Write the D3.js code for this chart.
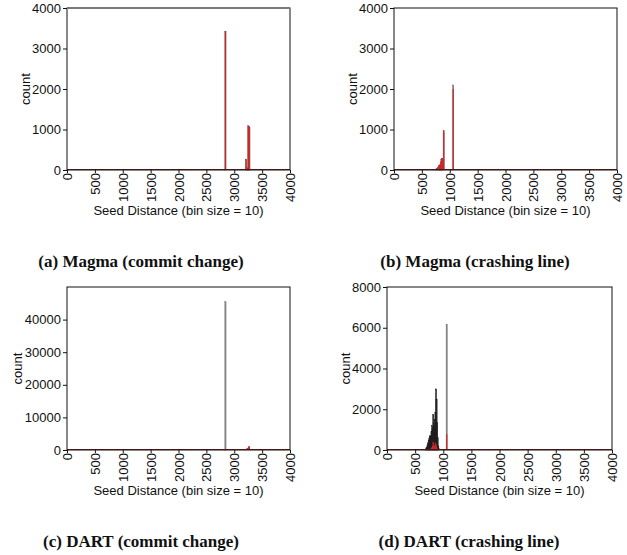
<!DOCTYPE html>
<html>
<head>
<meta charset="utf-8">
<script src="https://cdn.jsdelivr.net/npm/d3@7"></script>
<style>
  body { margin: 0; background: #fff; }
  svg { display: block; }
</style>
</head>
<body>
<svg id="chart" width="627" height="555"></svg>
<script>
// ---------- data ----------
const xTicks = [0, 500, 1000, 1500, 2000, 2500, 3000, 3500, 4000];
const binSize = 10;

// (a) Magma (commit change)
const binsA = [2830, 3200, 3210, 3220, 3230, 3240, 3250, 3260];
const grayA = [3430, 270, 60, 40, 30, 1100, 1080, 1060];
const redA  = [3430, 265, 60, 40, 30, 1080, 1080, 1060];
const yTicksA = [0, 1000, 2000, 3000, 4000];

// (b) Magma (crashing line)
const binsB = [680, 700, 720, 740, 760, 780, 790, 800, 810, 820, 830, 840, 850, 860, 870, 880, 1050];
const grayB = [5, 10, 15, 25, 40, 60, 100, 120, 120, 130, 200, 270, 280, 270, 280, 975, 2100];
const redB  = [5, 10, 15, 25, 40, 60, 100, 120, 120, 130, 200, 270, 280, 270, 280, 950, 2000];
const yTicksB = [0, 1000, 2000, 3000, 4000];

// (c) DART (commit change)
const binsC = [2830, 3200, 3210, 3220, 3230, 3240, 3250, 3260];
const grayC = [45500, 0, 0, 0, 0, 0, 0, 0];
const redC  = [300, 300, 200, 600, 500, 700, 1200, 1100];
const yTicksC = [0, 10000, 20000, 30000, 40000];

// (d) DART (crashing line)
const binsD = [680, 690, 700, 710, 720, 730, 740, 750, 760, 770, 780, 790, 800, 810, 820, 830, 840, 850, 860, 870, 880, 890, 900, 910, 1050];
const grayD = [50, 100, 150, 250, 350, 450, 550, 650, 700, 600, 900, 1200, 1000, 1750, 1300, 1100, 1500, 1850, 3000, 2500, 1350, 600, 200, 60, 6150];
const redD  = [0, 0, 0, 0, 0, 10, 20, 30, 50, 80, 100, 150, 200, 400, 250, 150, 200, 350, 250, 150, 80, 20, 0, 0, 770];
const yTicksD = [0, 2000, 4000, 6000, 8000];

const captions = ["(a) Magma (commit change)", "(b) Magma (crashing line)", "(c) DART (commit change)", "(d) DART (crashing line)"];
const yMaxes = [4000, 4000, 50000, 8000];

// ---------- layout ----------
const panels = [
  { box: [67, 8, 290, 170],   bins: binsA, gray: grayA, red: redA, yTicks: yTicksA, yMax: yMaxes[0], cap: captions[0], capX: 141, capY: 267, ylabX: 25, grayTop: true },
  { box: [394, 8, 617, 170],  bins: binsB, gray: grayB, red: redB, yTicks: yTicksB, yMax: yMaxes[1], cap: captions[1], capX: 475, capY: 267, ylabX: 352 },
  { box: [67, 287, 290, 450], bins: binsC, gray: grayC, red: redC, yTicks: yTicksC, yMax: yMaxes[2], cap: captions[2], capX: 141, capY: 547, ylabX: 17 },
  { box: [387, 287, 612, 450], bins: binsD, gray: grayD, red: redD, yTicks: yTicksD, yMax: yMaxes[3], cap: captions[3], capX: 469, capY: 547, ylabX: 345, dense: true }
];

const svg = d3.select("#chart");
const FONT = "Liberation Sans, Arial, sans-serif";
const GRAY = "#8c8c8c";
const DARK = "#2a2a2a";
const RED = "#cc2a2a";

panels.forEach(p => {
  const [x0, y0, x1, y1] = p.box;
  const x = d3.scaleLinear().domain([0, 4000]).range([x0, x1]);
  const y = d3.scaleLinear().domain([0, p.yMax]).range([y1, y0]);
  const g = svg.append("g");

  const bw = v => Math.max(x(v + binSize) - x(v), 1.3);
  const present = new Set(p.bins.filter((b, i) => p.gray[i] > 0));
  const isDense = b => p.dense && (present.has(b - binSize) || present.has(b + binSize));

  // gray series
  g.append("g").selectAll("rect")
    .data(p.bins.map((b, i) => ({ b, v: p.gray[i] })).filter(d => d.v > 0))
    .join("rect")
    .attr("x", d => x(d.b))
    .attr("width", d => bw(d.b))
    .attr("y", d => y(d.v))
    .attr("height", d => y1 - y(d.v))
    .attr("fill", d => isDense(d.b) ? DARK : GRAY)
    .attr("stroke", d => isDense(d.b) ? "#111" : "#555")
    .attr("stroke-width", 0.3);

  // red series
  g.append("g").selectAll("rect")
    .data(p.bins.map((b, i) => ({ b, v: p.red[i] })).filter(d => d.v > 0))
    .join("rect")
    .attr("x", d => x(d.b))
    .attr("width", d => bw(d.b))
    .attr("y", d => y(d.v))
    .attr("height", d => y1 - y(d.v))
    .attr("fill", RED);

  // baseline of zero-count bins
  g.append("line")
    .attr("x1", x0).attr("x2", x1).attr("y1", y1 - 0.5).attr("y2", y1 - 0.5)
    .attr("stroke", "#7a1e1e").attr("stroke-width", 1);

  // frame
  g.append("rect")
    .attr("x", x0).attr("y", y0).attr("width", x1 - x0).attr("height", y1 - y0)
    .attr("fill", "none").attr("stroke", "#111").attr("stroke-width", 1);
  if (p.grayTop) {
    g.append("line")
      .attr("x1", x0).attr("x2", x1).attr("y1", y0).attr("y2", y0)
      .attr("stroke", "#7a7a7a").attr("stroke-width", 1.8);
  }

  // y axis
  const ya = g.append("g").attr("transform", `translate(${x0},0)`)
    .call(d3.axisLeft(y).tickValues(p.yTicks).tickSize(4).tickPadding(2).tickFormat(d3.format("d")));
  ya.select(".domain").remove();
  ya.selectAll("text").attr("font-family", FONT).attr("font-size", 13).attr("fill", "#111");
  ya.selectAll("line").attr("stroke", "#111");

  // x axis
  const xa = g.append("g").attr("transform", `translate(0,${y1})`)
    .call(d3.axisBottom(x).tickValues(xTicks).tickSize(3).tickFormat(d3.format("d")));
  xa.select(".domain").remove();
  xa.selectAll("line").attr("stroke", "#111");
  xa.selectAll("text")
    .attr("font-family", FONT).attr("font-size", 13).attr("fill", "#111")
    .attr("transform", "rotate(-90)")
    .attr("x", -3).attr("y", 0).attr("dy", "0.35em")
    .attr("text-anchor", "end");

  // axis labels
  g.append("text")
    .attr("x", (x0 + x1) / 2).attr("y", y1 + 45)
    .attr("text-anchor", "middle")
    .attr("font-family", FONT).attr("font-size", 13).attr("fill", "#111")
    .text("Seed Distance (bin size = 10)");
  g.append("text")
    .attr("transform", `translate(${p.ylabX},${(y0 + y1) / 2}) rotate(-90)`)
    .attr("text-anchor", "middle").attr("dy", "0.35em")
    .attr("font-family", FONT).attr("font-size", 13).attr("fill", "#111")
    .text("count");

  // caption
  svg.append("text")
    .attr("x", p.capX).attr("y", p.capY)
    .attr("text-anchor", "middle")
    .attr("font-family", "Liberation Serif, 'DejaVu Serif', serif")
    .attr("font-weight", "bold").attr("font-size", 17).attr("fill", "#111")
    .text(p.cap);
});
</script>
</body>
</html>
